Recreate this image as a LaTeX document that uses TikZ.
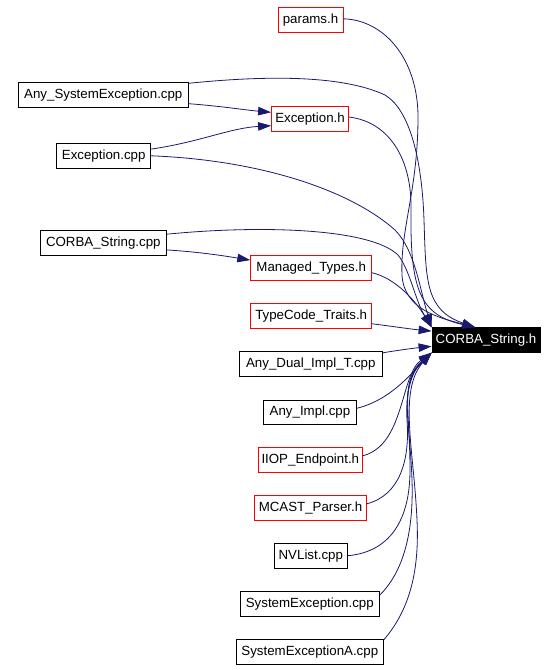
\documentclass[tikz,border=0pt]{standalone}
\usepackage{fontspec}
\setmainfont{Liberation Sans}
\usetikzlibrary{arrows.meta}
\usetikzlibrary{calc}
\definecolor{edgeblue}{HTML}{191970}

\begin{document}
\begin{tikzpicture}[x=1pt,y=-1pt,
	file/.style={draw=black,line width=0.8pt,minimum height=24.6pt,inner xsep=1pt,inner ysep=0pt,font=\fontsize{13.3}{15}\selectfont},
	hdr/.style={file,draw=red},
	root/.style={file,fill=black,text=white},
	incl/.style={draw=edgeblue,line width=0.8pt,-{Triangle[length=13pt,width=8.5pt]}}]
		\useasboundingbox (0,0) rectangle (558,670);
		% files
		\node[hdr,minimum width=65pt] (params) at (310.5,19.8) {params.h};
		\node[file,minimum width=170pt] (ase) at (103.3,95) {Any\_SystemException.cpp};
		\node[hdr,minimum width=77pt] (exh) at (310,119) {Exception.h};
		\node[file,minimum width=94pt] (exc) at (103.7,155.8) {Exception.cpp};
		\node[file,minimum width=126pt] (csc) at (103.3,242.9) {CORBA\_String.cpp};
		\node[hdr,minimum width=121pt] (mt) at (311.2,267.8) {Managed\_Types.h};
		\node[hdr,minimum width=121pt] (tc) at (311.2,315.8) {TypeCode\_Traits.h};
		\node[file,minimum width=143pt] (adi) at (310.8,364) {Any\_Dual\_Impl\_T.cpp};
		\node[root,minimum width=108pt] (cs) at (486,340) {CORBA\_String.h};
		\node[file,minimum width=93.4pt] (ai) at (310,412.2) {Any\_Impl.cpp};
		\node[hdr,minimum width=104pt] (iiop) at (310.3,459.8) {IIOP\_Endpoint.h};
		\node[hdr,minimum width=112.4pt] (mcast) at (310.5,507.7) {MCAST\_Parser.h};
		\node[file,minimum width=73pt] (nvl) at (310.8,555.7) {NVList.cpp};
		\node[file,minimum width=139pt] (se) at (309.8,603.9) {SystemException.cpp};
		\node[file,minimum width=147pt] (sea) at (309.8,651.7) {SystemExceptionA.cpp};
		% arrival points on CORBA_String.h
		\coordinate (topin) at ($(cs.north west)!0.4!(cs.north east)$);
		\coordinate (cornerin) at (cs.north west);
		\coordinate (tcin) at ($(cs.north west)!0.15!(cs.south west)$);
		\coordinate (adiin) at ($(cs.north west)!0.75!(cs.south west)$);
		\coordinate (lowin) at (cs.south west);
		% includes from above
		\draw[incl] ($(params.east)+(0,-1)$) .. controls (385,20) and (418,60) .. (418,117) .. controls (418,190) and (400,230) .. (402,275) .. controls (404,310) and (440,318) .. (topin);
		\draw[incl] ($(ase.north east)+(0,1)$) .. controls (260,76) and (340,74) .. (385,95) .. controls (410,110) and (422,160) .. (424,220) .. controls (426,280) and (425,310) .. (topin);
		\draw[incl] ($(ase.south east)+(0,-4)$) .. controls (220,106) and (245,110) .. ($(exh.north west)+(0,6)$);
		\draw[incl] ($(exc.north east)+(0,6)$) .. controls (200,142) and (230,128) .. ($(exh.south west)+(0,-6)$);
		\draw[incl] (exc.east) .. controls (260,160) and (350,190) .. (395,230) .. controls (415,250) and (420,290) .. (cornerin);
		\draw[incl] ($(exh.east)+(0,-2)$) .. controls (390,122) and (412,160) .. (411,210) .. controls (410,290) and (420,315) .. (topin);
		\draw[incl] ($(csc.north east)+(0,4)$) .. controls (260,225) and (370,228) .. (398,255) .. controls (410,270) and (415,300) .. (cornerin);
		\draw[incl] ($(csc.east)+(0,7)$) .. controls (200,252) and (225,256) .. ($(mt.north west)+(0,5)$);
		\draw[incl] ($(mt.east)+(0,5)$) .. controls (395,278) and (415,300) .. (cornerin);
		\draw[incl] ($(tc.east)+(0,8)$) .. controls (390,326) and (410,329) .. (tcin);
		\draw[incl] ($(adi.north east)+(0,1.5)$) .. controls (400,350) and (415,348) .. (adiin);
		% includes from below
		\draw[incl] ($(ai.east)+(0,-4)$) .. controls (390,400) and (410,375) .. (lowin);
		\draw[incl] ($(iiop.east)+(0,-4)$) .. controls (405,445) and (400,375) .. (lowin);
		\draw[incl] ($(mcast.east)+(0,-4)$) .. controls (400,495) and (410,460) .. (407,420) .. controls (405,385) and (415,368) .. (lowin);
		\draw[incl] (nvl.east) .. controls (390,552) and (410,520) .. (410,470) .. controls (410,410) and (400,380) .. (lowin);
		\draw[incl] ($(se.north east)+(0,4)$) .. controls (400,575) and (414,540) .. (412,480) .. controls (410,420) and (398,385) .. (lowin);
		\draw[incl] ($(sea.north east)+(0,1)$) .. controls (405,615) and (420,580) .. (417,520) .. controls (414,450) and (398,390) .. (lowin);
	\end{tikzpicture}
\end{document}
